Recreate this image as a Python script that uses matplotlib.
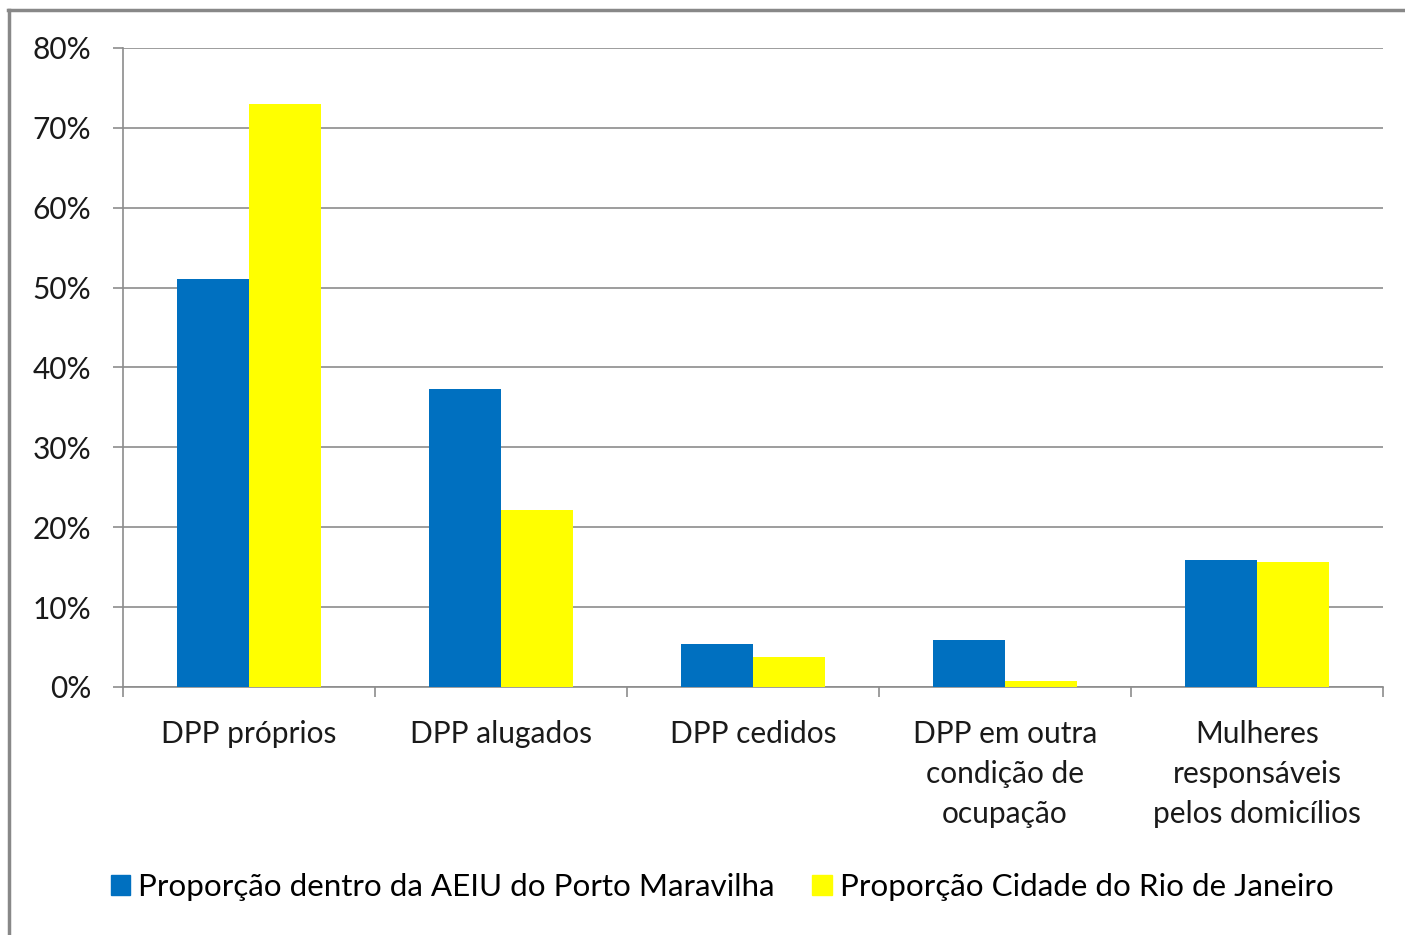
import numpy as np
import matplotlib.pyplot as plt
from matplotlib.lines import Line2D
from matplotlib.patches import Patch

categories = ["DPP próprios", "DPP alugados", "DPP cedidos",
              "DPP em outra\ncondição de\nocupação",
              "Mulheres\nresponsáveis\npelos domicílios"]
porto = [51.1, 37.3, 5.4, 5.9, 15.9]
rio = [73.0, 22.2, 3.8, 0.7, 15.7]
series_names = ["Proporção dentro da AEIU do Porto Maravilha",
                "Proporção Cidade do Rio de Janeiro"]
yticks = [0, 10, 20, 30, 40, 50, 60, 70, 80]

plt.rcParams['font.family'] = ['Lato', 'DejaVu Sans']
blue = "#0070C0"
yellow = "#FFFF00"
grid = "#8c8c8c"
fs = 21.5

fig = plt.figure(figsize=(14.05, 9.35), dpi=100)
ax = fig.add_axes([123/1405, 1 - 687/935, 1260/1405, 639/935])

x = np.arange(len(categories))
w = 0.286
ax.bar(x - w/2, porto, w, color=blue, zorder=3)
ax.bar(x + w/2, rio, w, color=yellow, zorder=3)

ax.set_xlim(-0.5, len(categories) - 0.5)
ax.set_ylim(0, 80)
ax.set_yticks(yticks)
ax.set_yticklabels([f"{t}%" for t in yticks], fontsize=fs, color="#1a1a1a")
ax.yaxis.grid(True, color=grid, linewidth=1.2, zorder=0)

# category labels between the boundary ticks
ax.set_xticks(np.arange(-0.5, len(categories), 1.0))
ax.set_xticklabels([])
ax.tick_params(axis='x', length=7, color=grid, width=1.2)
ax.tick_params(axis='y', length=7, color=grid, width=1.2, pad=16)
for i, c in enumerate(categories):
    ax.text(i, -4.1, c, ha='center', va='top', fontsize=fs,
            color="#1a1a1a", linespacing=1.52)

for s in ['top', 'right']:
    ax.spines[s].set_visible(False)
for s in ['left', 'bottom']:
    ax.spines[s].set_color(grid)
    ax.spines[s].set_linewidth(1.2)

handles = [Patch(color=blue), Patch(color=yellow)]
fig.legend(handles, series_names, loc='center', bbox_to_anchor=(722/1405, 1 - 887/935),
           ncol=2, frameon=False, fontsize=22.6, handlelength=0.62, handleheight=0.62,
           handletextpad=0.25, columnspacing=1.2)

# outer border of the chart
fig.add_artist(Line2D([8/1405, 1], [1 - 10/935, 1 - 10/935], color="#888888",
                      linewidth=2.5, transform=fig.transFigure))
fig.add_artist(Line2D([9/1405, 9/1405], [0, 1 - 10/935], color="#888888",
                      linewidth=2.5, transform=fig.transFigure))

fig.savefig("out.png", dpi=100)
